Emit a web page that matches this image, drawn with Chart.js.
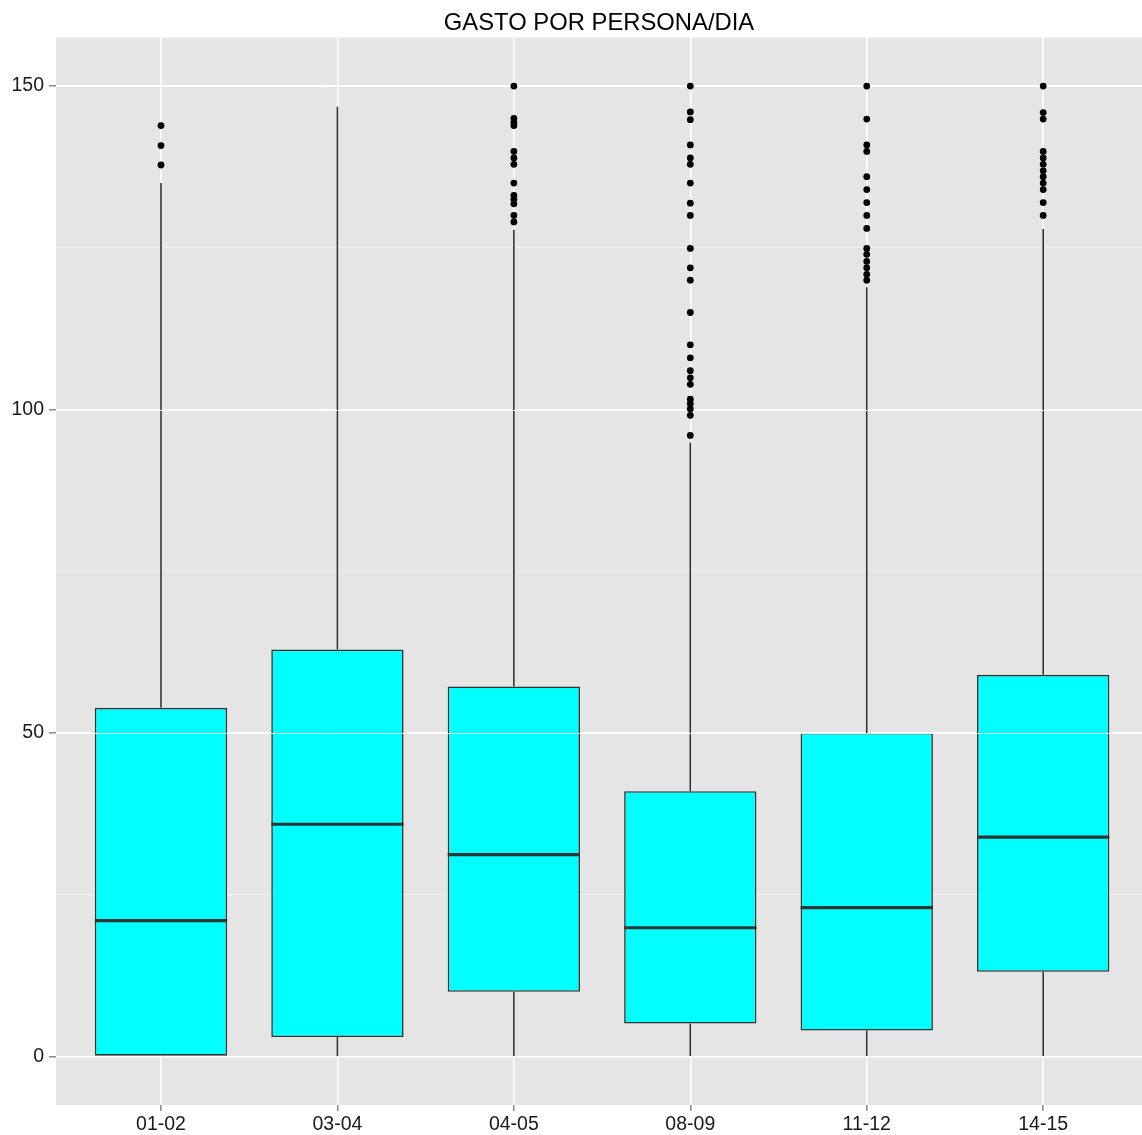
<!DOCTYPE html>
<html><head><meta charset="utf-8">
<script src="https://cdn.jsdelivr.net/npm/chart.js@4.4.1/dist/chart.umd.min.js"></script>
<style>html,body{margin:0;padding:0;background:#fff;}#wrap{width:1142px;height:1135px;position:relative;}</style>
</head><body><div id="wrap"><canvas id="c"></canvas></div>
<script>
const titleText = 'GASTO POR PERSONA/DIA';
const categories = ['01-02', '03-04', '04-05', '08-09', '11-12', '14-15'];
const lowerWhisker = [0, 0, 0, 0, 0, 0];
const q1 = [0, 3, 10, 5.1, 4, 13.1];
const median = [21, 35.9, 31.2, 19.9, 23, 33.9];
const q3 = [53.9, 62.9, 57.2, 41, 50, 59];
const upperWhisker = [135, 146.8, 127.8, 94.9, 118.9, 127.9];
const outliers0102 = [143.9, 140.8, 137.8];
const outliers0304 = [];
const outliers0405 = [150, 145, 144.4, 143.9, 139.9, 138.9, 137.9, 135, 133.1, 132.5, 131.8, 130, 129];
const outliers0809 = [150, 146, 144.8, 140.9, 138.9, 137.9, 135, 131.9, 130, 124.9, 121.9, 120, 115, 110, 108, 106, 104.9, 103.9, 101.6, 100.9, 100.1, 99.1, 96];
const outliers1112 = [150, 144.9, 140.9, 139.9, 136, 134, 132, 130, 128, 124.9, 124, 122.9, 121.9, 120.9, 120];
const outliers1415 = [150, 145.9, 144.9, 139.9, 138.9, 137.9, 136.9, 136, 135, 134, 132, 130];
const yMajorTicks = [0, 50, 100, 150];
const yMinorTicks = [25, 75, 125];

const outliers = [outliers0102, outliers0304, outliers0405, outliers0809, outliers1112, outliers1415];
const BOX_HALF = 0.375;
const FONT = "'Liberation Sans', Arial, Helvetica, sans-serif";

const boxData = categories.map((c, i) => ({x: i, y: [q1[i], q3[i]]}));
const whiskerData = [];
categories.forEach((c, i) => {
  whiskerData.push({x: i, y: lowerWhisker[i]}, {x: i, y: q1[i]}, {x: i, y: null});
  whiskerData.push({x: i, y: q3[i]}, {x: i, y: upperWhisker[i]}, {x: i, y: null});
});
const medianData = [];
categories.forEach((c, i) => {
  medianData.push({x: i - BOX_HALF, y: median[i]}, {x: i + BOX_HALF, y: median[i]}, {x: i, y: null});
});
const outlierData = [];
outliers.forEach((arr, i) => arr.forEach(v => outlierData.push({x: i, y: v})));

const panelBg = {
  id: 'panelBg',
  beforeDraw(chart) {
    const {ctx, chartArea: a} = chart;
    ctx.save();
    ctx.fillStyle = '#e5e5e5';
    ctx.fillRect(a.left, a.top, a.right - a.left, a.bottom - a.top);
    ctx.restore();
  }
};
// thin white major gridlines showing through the boxes, as in the reference rendering
const gridOverBoxes = {
  id: 'gridOverBoxes',
  afterDatasetDraw(chart, args) {
    if (args.index !== 0) return;
    const {ctx, chartArea: a} = chart;
    const y = chart.scales.y;
    ctx.save();
    ctx.strokeStyle = 'rgba(255,255,255,0.9)';
    ctx.lineWidth = 1;
    yMajorTicks.forEach(v => {
      const py = Math.round(y.getPixelForValue(v)) + 0.5;
      ctx.beginPath(); ctx.moveTo(a.left, py); ctx.lineTo(a.right, py); ctx.stroke();
    });
    ctx.restore();
  }
};

new Chart(document.getElementById('c'), {
  type: 'bar',
  data: {
    datasets: [
      {type: 'bar', data: boxData, backgroundColor: '#00ffff', borderColor: '#333333', borderWidth: 1.6,
       borderSkipped: false, categoryPercentage: 1, barPercentage: 0.75, order: 3},
      {type: 'line', data: whiskerData, borderColor: '#333333', borderWidth: 1.6, pointRadius: 0,
       spanGaps: false, fill: false, order: 4},
      {type: 'line', data: medianData, borderColor: '#333333', borderWidth: 3.2, pointRadius: 0,
       spanGaps: false, fill: false, order: 2},
      {type: 'scatter', data: outlierData, backgroundColor: '#000000', borderWidth: 0,
       pointRadius: 3.4, order: 1}
    ]
  },
  options: {
    responsive: true,
    maintainAspectRatio: false,
    animation: false,
    layout: {autoPadding: false, padding: {left: 0, right: 0, top: 0, bottom: 0}},
    plugins: {
      legend: {display: false},
      tooltip: {enabled: false},
      title: {display: true, text: titleText, fullSize: false, color: '#000',
        font: {family: FONT, size: 23.8, weight: 'normal'}, padding: {top: 9, bottom: 0}}
    },
    scales: {
      x: {
        type: 'linear', min: -0.595, max: categories.length - 0.44, offset: false,
        afterBuildTicks(s) { s.ticks = categories.map((c, i) => ({value: i})); },
        afterFit(s) { s.height = 30; s.paddingLeft = 0; s.paddingRight = 0; },
        ticks: {callback: v => categories[v] ?? '', color: '#1a1a1a', font: {family: FONT, size: 19.5}, padding: 2, maxRotation: 0, autoSkip: false},
        grid: {offset: false, color: '#ffffff', lineWidth: 1.6, tickColor: '#7f7f7f', tickWidth: 1.4, tickLength: 6},
        border: {display: false}
      },
      y: {
        type: 'linear', min: -7.5, max: 157.5,
        afterBuildTicks(s) { s.ticks = [...yMajorTicks, ...yMinorTicks].sort((a, b) => a - b).map(v => ({value: v})); },
        afterFit(s) { s.width = 56; },
        ticks: {callback: v => yMajorTicks.includes(v) ? String(v) : '', color: '#1a1a1a', font: {family: FONT, size: 19.5}, padding: 5},
        grid: {
          color: c => yMajorTicks.includes(c.tick.value) ? '#ffffff' : '#f2f2f2',
          lineWidth: c => yMajorTicks.includes(c.tick.value) ? 1.6 : 0.9,
          tickColor: c => yMajorTicks.includes(c.tick.value) ? '#7f7f7f' : 'rgba(0,0,0,0)',
          tickWidth: 1.4, tickLength: 7
        },
        border: {display: false}
      }
    }
  },
  plugins: [panelBg, gridOverBoxes]
});
</script></body></html>
